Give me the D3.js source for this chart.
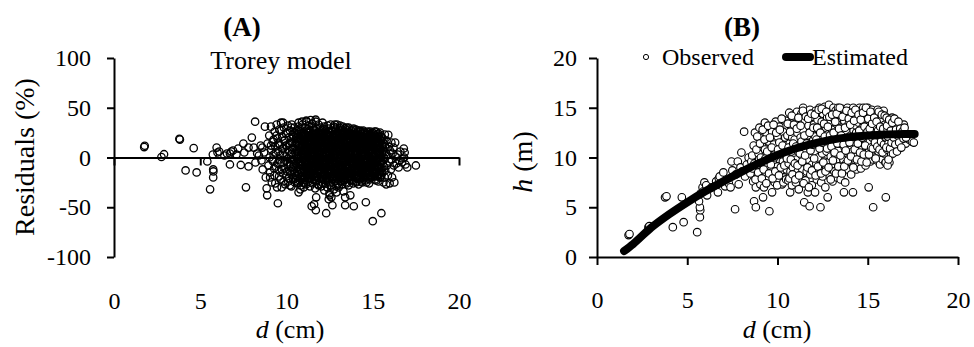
<!DOCTYPE html>
<html>
<head>
<meta charset="utf-8">
<script src="https://cdn.jsdelivr.net/npm/d3@7"></script>
<style>
  body { margin: 0; background: #fff; }
  svg text { font-family: "Liberation Serif", "Times New Roman", serif; fill: #000; }
</style>
</head>
<body>
<svg id="chart" width="974" height="347"></svg>
<script>
// ---- panel A: residuals (%) of the Trorey model vs d (cm) ----
const resLeft = [[1.75,10.5],[1.78,11.8],[2.75,0.5],[2.9,3.3],[3.79,18.8],[3.82,18],[4.15,-13],[4.62,9.4],[4.79,-15],
  [5.41,-4],[5.57,-32],[5.73,3],[5.75,-12],[5.76,-14],[5.75,-20],[5.95,10],[6.0,5],[6.1,6],[6.4,2],[6.55,4],
  [6.72,-7],[6.72,4],[6.8,6],[6.9,7],[7.1,3],[7.2,9],[7.35,-7.5],[7.5,14],[7.55,5],[7.65,-30],[7.8,-9],[7.8,10],
  [7.99,20],[8.1,10],[8.18,36],[8.3,4],[8.2,-5],[8.4,2],[8.5,12]];

const resMid = [[8.55,-3],[8.6,10],[8.62,-12],[8.7,5],[8.75,31],[8.8,-20],[8.85,-31],[8.88,-38],[8.9,14],[8.95,-8],
  [9.0,22],[9.02,0],[9.05,-15],[9.1,31],[9.12,8],[9.15,-25],[9.2,16],[9.22,-4],[9.25,3],[9.3,-18],[9.32,26],
  [9.35,11],[9.4,-9],[9.43,33],[9.45,-30],[9.48,19],[9.5,-46],[9.52,6],[9.55,-13],[9.58,28],[9.6,-2],[9.62,13],
  [9.65,-22],[9.68,35],[9.7,-6],[9.72,-30],[9.75,21],[9.78,4],[9.8,-16],[9.82,9],[9.85,30],[9.88,-11],[9.9,17],
  [9.92,-27],[9.95,1],[9.97,24],[10.0,-19],[10.02,12],[10.05,-5],[10.08,32],[10.1,-24],[10.12,7],[10.15,20],
  [10.18,-9],[10.2,27],[10.22,-14],[10.25,3],[10.28,-29],[10.3,15],[10.32,-2],[10.35,23],[10.38,-20],[10.4,10],
  [10.42,-7],[10.45,30],[10.48,-25],[10.5,5],
  [9.05,-20],[9.1,12],[9.18,-2],[9.25,18],[9.28,-11],[9.35,-26],[9.38,5],[9.42,22],[9.47,-6],[9.53,14],
  [9.57,-19],[9.63,2],[9.66,27],[9.73,-12],[9.76,9],[9.83,-24],[9.86,17],[9.93,-3],[9.96,12],[10.03,-14],
  [10.06,25],[10.11,-1],[10.14,-21],[10.19,14],[10.23,-7],[10.26,30],[10.29,-17],[10.33,8],[10.36,-10],[10.4,21]];

const resCore = [
  [10.51,-21],[10.53,14],[10.55,-6],[10.57,27],[10.58,2],[10.6,-14],[10.59,20],
  [10.62,8],[10.64,-26],[10.66,17],[10.67,-1],[10.69,31],[10.68,-10],[10.65,24],
  [10.71,-17],[10.72,5],[10.74,12],[10.75,-23],[10.77,29],[10.78,-4],[10.79,19],
  [10.81,-12],[10.82,26],[10.84,1],[10.85,-28],[10.86,10],[10.88,-7],[10.89,22],
  [10.9,16],[10.92,-19],[10.93,33],[10.95,-2],[10.96,7],[10.97,-25],[10.99,13],
  [11.0,-9],[11.02,24],[11.03,-15],[11.05,4],[11.06,30],[11.08,-21],[11.09,11],
  [11.11,-4],[11.12,18],[11.14,-27],[11.15,36],[11.16,8],[11.18,-12],[11.19,26],
  [11.2,-18],[11.22,2],[11.23,14],[11.25,-8],[11.26,21],[11.28,-24],[11.29,32],
  [11.3,6],[11.32,-13],[11.33,27],[11.35,-1],[11.36,-29],[11.38,17],[11.39,9],
  [11.4,-20],[11.42,23],[11.43,-6],[11.45,13],[11.46,-16],[11.48,34],[11.49,0],
  [11.5,19],[11.52,-26],[11.53,5],[11.55,-10],[11.56,28],[11.58,11],[11.59,-22],
  [11.6,-3],[11.62,24],[11.63,-17],[11.65,15],[11.66,-31],[11.68,3],[11.69,38],
  [11.7,10],[11.72,-8],[11.73,29],[11.75,-23],[11.76,18],[11.78,-14],[11.79,1],
  [11.8,25],[11.82,-19],[11.83,7],[11.85,-27],[11.86,33],[11.88,-5],[11.89,14],
  [11.9,-11],[11.92,21],[11.93,-2],[11.95,30],[11.96,-24],[11.98,9],[11.99,-15],
  [12.0,16],[12.02,-29],[12.03,26],[12.05,-7],[12.06,4],[12.08,-18],[12.09,35],
  [12.1,-1],[12.12,12],[12.13,-22],[12.15,22],[12.16,-12],[12.18,31],[12.19,-33],
  [12.2,8],[12.22,-16],[12.23,19],[12.25,-4],[12.26,27],[12.28,-26],[12.29,2],
  [12.3,-9],[12.32,24],[12.33,-20],[12.35,13],[12.36,-30],[12.38,32],[12.39,6],
  [12.4,-14],[12.42,17],[12.43,-2],[12.45,29],[12.46,-25],[12.48,10],[12.49,-36],
  [12.5,21],[12.52,-8],[12.53,3],[12.55,-19],[12.56,33],[12.58,-12],[12.59,15],
  [12.6,-28],[12.62,8],[12.63,26],[12.65,-5],[12.66,-22],[12.68,18],[12.69,0],
  [12.7,12],[12.72,-16],[12.73,31],[12.75,-32],[12.76,5],[12.78,23],[12.79,-10],
  [12.8,-3],[12.82,20],[12.83,-24],[12.85,28],[12.86,-13],[12.88,9],[12.89,-29],
  [12.9,16],[12.92,-7],[12.93,33],[12.95,-18],[12.96,2],[12.98,25],[12.99,-26],
  [13.0,-11],[13.02,11],[13.03,-30],[13.05,22],[13.06,-4],[13.08,30],[13.09,-20],
  [13.1,7],[13.12,-15],[13.13,19],[13.15,-1],[13.16,27],[13.18,-24],[13.19,14],
  [13.2,-8],[13.22,24],[13.23,-27],[13.25,4],[13.26,31],[13.28,-14],[13.29,10],
  [13.3,-19],[13.32,17],[13.33,-3],[13.35,26],[13.36,-23],[13.38,6],[13.39,29],
  [13.4,-10],[13.42,13],[13.43,-25],[13.45,21],[13.46,1],[13.48,-17],[13.49,30],
  [13.5,8],[13.52,-6],[13.53,25],[13.55,-21],[13.56,16],[13.58,-12],[13.59,3],
  [13.6,-28],[13.62,28],[13.63,-2],[13.65,11],[13.66,-16],[13.68,22],[13.69,-9],
  [13.7,18],[13.72,-23],[13.73,5],[13.75,27],[13.76,-13],[13.78,-1],[13.79,14],
  [13.8,-18],[13.82,24],[13.83,-7],[13.85,9],[13.86,-26],[13.88,19],[13.89,29],
  [13.9,-4],[13.92,15],[13.93,-20],[13.95,26],[13.96,2],[13.98,-11],[13.99,21],
  [14.0,-15],[14.02,7],[14.03,28],[14.05,-24],[14.06,12],[14.08,-3],[14.09,23],
  [14.1,-8],[14.12,18],[14.13,-19],[14.15,3],[14.16,27],[14.18,-27],[14.19,10],
  [14.2,-12],[14.22,22],[14.23,-1],[14.25,14],[14.26,-22],[14.28,26],[14.29,-6],
  [14.3,17],[14.32,-16],[14.33,5],[14.35,24],[14.36,-9],[14.38,-25],[14.39,11],
  [14.4,-2],[14.42,20],[14.43,-14],[14.45,27],[14.46,-20],[14.48,8],[14.49,16],
  [14.5,-18],[14.52,13],[14.53,-5],[14.55,25],[14.56,-11],[14.58,2],[14.59,-23],
  [14.6,19],[14.62,-8],[14.63,9],[14.65,-17],[14.66,23],[14.68,-2],[14.69,14],
  [14.7,-13],[14.72,26],[14.73,-21],[14.75,6],[14.76,17],[14.78,-6],[14.79,-26],
  [14.8,11],[14.82,-15],[14.83,22],[14.85,-1],[14.86,26],[14.88,-10],[14.89,4],
  [14.9,-20],[14.92,15],[14.93,-7],[14.95,21],[14.96,-14],[14.98,8],[14.99,25],
  [15.0,-4],[15.02,12],[15.03,-17],[15.05,24],[15.06,-9],[15.08,1],[15.09,18],
  [15.1,-12],[15.12,22],[15.13,-22],[15.15,7],[15.16,14],[15.18,-6],[15.19,26],
  [15.2,3],[15.22,-15],[15.23,19],[15.25,-3],[15.26,10],[15.28,-19],[15.29,23],
  [15.3,-8],[15.32,16],[15.33,-24],[15.35,5],[15.36,21],[15.38,-11],[15.39,12],
  [15.4,-1],[15.42,25],[15.43,-14],[15.45,8],[15.46,-20],[15.48,17],[15.49,0]];

// second pass through the dense cloud
const resCore2 = [
  [10.31,4],[10.34,-12],[10.36,19],[10.39,-22],[10.41,9],[10.43,-3],[10.46,25],[10.48,-16],
  [10.5,12],[10.53,-9],[10.55,1],[10.57,22],[10.6,-19],[10.62,15],[10.64,-2],[10.66,-24],
  [10.68,6],[10.71,27],[10.73,-11],[10.75,18],[10.77,-6],[10.8,9],[10.82,-20],[10.84,2],
  [10.86,24],[10.89,-15],[10.91,11],[10.93,-8],[10.95,20],[10.98,-1],[11.0,16],[11.03,-26],
  [11.05,8],[11.07,-4],[11.1,23],[11.12,-17],[11.14,13],[11.16,1],[11.19,-10],[11.21,28],
  [11.23,-21],[11.25,7],[11.28,16],[11.3,-5],[11.32,25],[11.34,-14],[11.37,3],[11.39,-25],
  [11.41,11],[11.43,-9],[11.46,20],[11.48,-2],[11.5,8],[11.52,-18],[11.55,30],[11.57,2],
  [11.59,-12],[11.61,18],[11.64,-6],[11.66,26],[11.68,-23],[11.7,14],[11.73,-1],[11.75,6],
  [11.77,-16],[11.79,21],[11.82,-9],[11.84,12],[11.86,-28],[11.88,3],[11.91,27],[11.93,-4],
  [11.95,17],[11.97,-20],[12.0,6],[12.02,-12],[12.04,23],[12.06,-1],[12.09,12],[12.11,-26],
  [12.13,29],[12.15,-7],[12.18,4],[12.2,-17],[12.22,18],[12.24,-3],[12.27,9],[12.29,-21],
  [12.31,21],[12.33,-11],[12.36,2],[12.38,15],[12.4,-24],[12.42,26],[12.45,-6],[12.47,8],
  [12.49,-15],[12.51,19],[12.54,-2],[12.56,-28],[12.58,12],[12.6,27],[12.63,-9],[12.65,5],
  [12.67,-19],[12.69,22],[12.72,-4],[12.74,14],[12.76,-13],[12.78,30],[12.81,1],[12.83,-23],
  [12.85,10],[12.87,-8],[12.9,24],[12.92,-16],[12.94,6],[12.96,-27],[12.99,17],[13.01,-3],
  [13.03,13],[13.05,-21],[13.08,26],[13.1,-10],[13.12,3],[13.14,20],[13.17,-15],[13.19,8],
  [13.21,-5],[13.23,28],[13.26,-22],[13.28,11],[13.3,-1],[13.32,18],[13.35,-13],[13.37,4],
  [13.39,23],[13.41,-18],[13.44,9],[13.46,-7],[13.48,15],[13.5,-26],[13.53,27],[13.55,0],
  [13.57,-11],[13.59,19],[13.62,-20],[13.64,6],[13.66,25],[13.68,-5],[13.71,12],[13.73,-16],
  [13.75,2],[13.77,21],[13.8,-23],[13.82,14],[13.84,-8],[13.86,28],[13.89,-2],[13.91,9],
  [13.93,-17],[13.95,23],[13.98,-12],[14.0,4],[14.02,17],[14.04,-25],[14.07,11],[14.09,-6],
  [14.11,25],[14.13,-14],[14.16,1],[14.18,19],[14.2,-20],[14.22,8],[14.25,-3],[14.27,27],
  [14.29,-10],[14.31,13],[14.34,-24],[14.36,21],[14.38,3],[14.4,-15],[14.43,26],[14.45,-7],
  [14.47,10],[14.49,-21],[14.52,18],[14.54,-1],[14.56,23],[14.58,-13],[14.61,6],[14.63,-25],
  [14.65,15],[14.67,-5],[14.7,25],[14.72,-18],[14.74,2],[14.76,12],[14.79,-10],[14.81,20],
  [14.83,-22],[14.85,7],[14.88,-3],[14.9,24],[14.92,-14],[14.94,14],[14.97,-8],[14.99,1],
  [15.01,21],[15.03,-19],[15.06,9],[15.08,-6],[15.1,26],[15.12,-12],[15.15,4],[15.17,16],
  [15.19,-23],[15.21,11],[15.24,-2],[15.26,20],[15.28,-9],[15.3,6],[15.33,24],[15.35,-17],
  [15.37,2],[15.39,14],[15.42,-20],[15.44,9],[15.46,-6],[15.48,21],[15.51,-11],[15.53,4],
  [15.55,-15],[15.57,13],[15.6,-3],[15.62,18],[15.64,-9],[15.66,6],[15.69,-20],[15.71,11]];

// third pass: the solid black middle of the cloud
const resCore3 = [
  [10.8,-14],[10.83,6],[10.85,19],[10.88,-4],[10.9,-19],[10.92,12],[10.95,24],[10.97,0],
  [11.0,-12],[11.03,18],[11.05,-20],[11.07,7],[11.1,-2],[11.12,22],[11.15,-15],[11.17,10],
  [11.19,-7],[11.22,25],[11.24,-18],[11.26,4],[11.29,15],[11.31,-10],[11.33,-1],[11.36,21],
  [11.38,-21],[11.4,9],[11.43,-4],[11.45,17],[11.47,-13],[11.5,2],[11.52,24],[11.54,-8],
  [11.57,13],[11.59,-17],[11.61,5],[11.64,20],[11.66,-11],[11.68,-1],[11.71,23],[11.73,-19],
  [11.75,8],[11.78,-5],[11.8,16],[11.82,-14],[11.84,1],[11.87,25],[11.89,-21],[11.91,10],
  [11.94,-3],[11.96,19],[11.98,-16],[12.01,6],[12.03,-9],[12.05,15],[12.08,-20],[12.1,24],
  [12.12,1],[12.15,-13],[12.17,10],[12.19,-4],[12.22,21],[12.24,-18],[12.26,5],[12.29,16],
  [12.31,-7],[12.33,-21],[12.36,11],[12.38,-1],[12.4,23],[12.43,-12],[12.45,3],[12.47,18],
  [12.5,-17],[12.52,8],[12.54,-6],[12.57,25],[12.59,-14],[12.61,0],[12.64,14],[12.66,-20],
  [12.68,9],[12.71,-3],[12.73,19],[12.75,-11],[12.78,4],[12.8,23],[12.82,-18],[12.85,12],
  [12.87,-6],[12.89,17],[12.92,-21],[12.94,0],[12.96,21],[12.99,-9],[13.01,7],[13.03,-15],
  [13.06,15],[13.08,-2],[13.1,24],[13.13,-19],[13.15,10],[13.17,-7],[13.2,19],[13.22,-12],
  [13.24,2],[13.27,22],[13.29,-17],[13.31,7],[13.34,-4],[13.36,14],[13.38,-21],[13.41,25],
  [13.43,-10],[13.45,4],[13.48,17],[13.5,-15],[13.52,9],[13.55,-2],[13.57,22],[13.59,-19],
  [13.62,12],[13.64,-7],[13.66,1],[13.69,20],[13.71,-13],[13.73,8],[13.76,-20],[13.78,24],
  [13.8,-4],[13.83,14],[13.85,-16],[13.87,5],[13.9,21],[13.92,-10],[13.94,0],[13.97,17],
  [13.99,-20],[14.01,10],[14.04,-5],[14.06,23],[14.08,-14],[14.11,3],[14.13,16],[14.15,-9],
  [14.18,-21],[14.2,13],[14.22,-1],[14.25,22],[14.27,-16],[14.29,7],[14.32,-6],[14.34,18],
  [14.36,-12],[14.39,2],[14.41,24],[14.43,-19],[14.46,11],[14.48,-4],[14.5,15],[14.53,-10],
  [14.55,5],[14.57,20],[14.6,-17],[14.62,9],[14.64,-2],[14.67,23],[14.69,-13],[14.71,1],
  [14.74,17],[14.76,-20],[14.78,11],[14.81,-7],[14.83,19],[14.85,-11],[14.88,3],[14.9,-18],
  [14.92,12],[14.95,-3],[14.97,22],[14.99,-15],[15.02,6],[15.04,17],[15.06,-10],[15.09,0],
  [15.11,-19],[15.13,13],[15.16,-5],[15.18,20],[15.2,-13],[15.23,8],[15.25,-18],[15.27,15],
  [15.3,-1],[15.32,21],[15.34,-8],[15.37,10],[15.39,-16],[15.41,4],[15.44,18],[15.46,-4]];

// extra points in the darkest band around zero
const resBand = [[11.04,3],[11.13,-6],[11.24,10],[11.34,-2],[11.44,6],[11.54,-5],[11.64,12],[11.74,-1],[11.84,4],
  [11.94,-7],[12.04,9],[12.14,-3],[12.24,14],[12.34,-10],[12.44,5],[12.54,-2],[12.64,11],[12.74,-6],[12.84,3],
  [12.94,-12],[13.04,8],[13.14,-8],[13.24,15],[13.34,-4],[13.44,7],[13.54,-9],[13.64,4],[13.74,-5],[13.84,12],
  [13.94,-2],[14.04,6],[14.14,-11],[14.24,9],[14.34,-1],[14.44,4],[14.54,-8],[14.64,7],[14.74,-3],[14.84,13],
  [14.94,-5],[11.07,15],[11.17,-11],[11.27,20],[11.37,-18],[11.47,24],[11.57,-14],[11.67,16],[11.77,-20],
  [11.87,19],[11.97,-9],[12.07,22],[12.17,-16],[12.27,18],[12.37,-21],[12.47,23],[12.57,-14],[12.67,17],
  [12.77,-20],[12.87,22],[12.97,-16],[13.07,18],[13.17,-18],[13.27,20],[13.37,-13],[13.47,23],[13.57,-16],
  [13.67,18],[13.77,-19],[13.87,16],[13.97,-15],[14.07,19],[14.17,-13],[14.27,17],[14.37,-16],[14.47,21],
  [14.57,-13],[14.67,19],[14.77,-15],[14.87,17],[14.97,-12]];

const resRight = [[15.52,-17],[15.55,20],[15.58,-6],[15.6,9],[15.62,-25],[15.65,14],[15.68,-1],[15.7,23],[15.72,-13],
  [15.75,5],[15.78,-27],[15.8,17],[15.82,-8],[15.85,2],[15.88,-18],[15.9,22.7],[15.92,11],[15.95,-4],[15.98,-26],
  [16.0,7],[16.05,-12],[16.08,15],[16.1,-2],[16.12,-20],[16.15,4],[16.2,10],[16.22,-8],[16.25,-25],[16.3,15],
  [16.32,1],[16.38,-6],[16.45,3],[16.5,-10],[16.55,-3],[16.6,6],[16.7,-5],[16.75,-1],[16.8,9],[16.82,0],
  [16.85,5],[16.9,-7],[17.0,-10],[17.5,-8]];

const resOutliers = [[11.46,-49],[11.6,-47],[11.7,-53],[11.72,-40],[12.3,-56],[12.6,-40],[12.66,-48],[13.3,-34],
  [13.4,-40],[13.4,-48],[13.9,-49],[14.6,-45],[15.0,-64],[15.5,-56],[10.7,-35],[10.8,-32],[12.45,-42],
  [12.5,-38],[12.9,-35],[13.7,-38],[10.2,-28],[11.0,-30],[11.4,37.7],[10.7,35],[11.7,36],[12.8,33],
  [11.15,37],[11.5,34],[10.3,33],[9.8,35],[10.9,36],[13.1,32],[13.6,30]];

// ---- panel B: observed h (m) vs d (cm), plus estimated curve ----
const obsLeft = [[1.75,2.2],[1.8,2.3],[2.85,3.0],[2.9,3.1],[3.77,6.0],[3.85,6.1],[4.2,3.0],[4.7,6.0],[4.8,3.5],
  [5.55,2.5],[5.7,4.0],[5.72,4.7],[5.7,5.0],[5.65,5.6],[5.75,6.4],[5.85,7.0],[5.95,7.5],[5.9,6.6],[6.05,7.2],
  [6.1,6.2],[6.35,7.0],[6.6,7.6],[6.7,6.5],[6.75,7.9],[6.8,8.1],[7.0,8.5],[7.1,7.1],[7.3,7.4],[7.4,7.0],
  [7.45,9.6],[7.5,8.7],[7.65,4.8],[7.7,8.3],[7.8,9.6],[7.85,7.3],[7.95,9.0],[8.0,10.5],[8.05,8.6],[8.15,12.6],
  [8.2,8.1],[8.3,9.3],[8.4,10.0],[8.5,8.4],[8.55,9.6]];

const obsMid = [[8.6,10.2],[8.65,7.6],[8.7,5.6],[8.75,12.5],[8.8,5.0],[8.8,7.0],[8.85,9.0],[8.9,8.0],[8.95,10.4],
  [9.0,12.0],[9.0,13.0],[9.05,7.3],[9.1,8.6],[9.15,11.1],[9.2,6.0],[9.2,9.7],[9.25,7.0],[9.3,13.5],[9.3,10.8],
  [9.35,8.3],[9.4,12.4],[9.45,9.2],[9.5,7.8],[9.5,11.6],[9.55,4.6],[9.6,10.1],[9.6,13.0],[9.65,8.7],[9.7,6.5],
  [9.7,12.6],[9.75,9.5],[9.8,11.3],[9.85,7.5],[9.9,13.6],[9.9,10.5],[9.95,8.1],[10.0,12.1],[10.0,9.1],
  [10.05,7.6],[10.1,11.5],[10.1,13.1],[10.15,8.6],[10.2,10.3],[10.25,7.3],[10.3,12.6],[10.3,9.6],[10.35,8.0],
  [10.4,11.0],[10.45,13.7],[10.5,8.8],[10.5,10.1],
  [8.62,8.9],[8.68,11.2],[8.72,9.4],[8.78,7.8],[8.83,10.8],[8.88,12.1],[8.93,8.5],[8.98,9.8],[9.03,11.4],
  [9.08,10.0],[9.13,7.9],[9.18,12.8],[9.23,8.8],[9.28,11.8],[9.33,9.9],[9.38,7.4],[9.43,10.6],[9.48,13.2],
  [9.53,8.4],[9.58,12.0],[9.63,9.3],[9.68,11.0],[9.73,7.9],[9.78,13.3],[9.83,10.0],[9.88,8.6],[9.93,12.5],
  [9.98,7.2],[10.03,10.8],[10.08,8.2],[10.13,12.8],[10.18,9.0],[10.23,13.9],[10.28,11.2],[10.33,7.5],
  [10.38,9.2],[10.43,12.0],[10.48,7.8]];

const obsCore = [
  [10.55,12.2],[10.6,7.7],[10.62,9.4],[10.65,14.5],[10.68,11.4],[10.7,6.5],[10.72,8.6],[10.75,13.0],[10.78,10.6],
  [10.8,7.2],[10.82,12.0],[10.85,9.0],[10.88,14.0],[10.9,10.9],[10.92,8.0],[10.95,11.8],
  [11.0,13.4],[11.02,7.5],[11.05,9.8],[11.08,14.6],[11.1,12.5],[11.12,8.6],[11.15,10.6],[11.18,6.8],[11.2,13.8],
  [11.22,11.2],[11.25,9.2],[11.28,12.0],[11.3,7.9],[11.32,14.4],[11.35,10.2],[11.38,8.8],
  [11.4,12.8],[11.42,15.0],[11.45,9.6],[11.48,5.5],[11.5,11.6],[11.52,13.7],[11.55,7.7],[11.58,10.8],[11.6,14.5],
  [11.62,8.6],[11.65,12.2],[11.68,6.5],[11.7,9.8],[11.72,13.2],[11.75,11.1],[11.78,5.1],[11.8,14.8],[11.82,8.3],
  [11.85,10.3],[11.88,12.6],[11.9,7.2],[11.92,9.3],[11.95,14.1],[11.98,11.7],
  [12.0,8.8],[12.02,13.3],[12.05,10.6],[12.08,6.5],[12.1,12.1],[12.12,14.7],[12.15,9.4],[12.18,7.8],[12.2,11.4],
  [12.22,13.8],[12.25,10.0],[12.28,8.5],[12.3,12.7],[12.32,15.0],[12.35,9.0],[12.38,5.0],[12.4,11.2],[12.42,7.5],
  [12.45,13.6],[12.48,10.4],[12.5,8.1],[12.52,14.4],[12.55,12.0],[12.58,9.6],
  [12.6,11.0],[12.62,15.1],[12.65,7.0],[12.68,13.0],[12.7,8.9],[12.72,10.6],[12.75,14.0],[12.78,6.0],[12.8,12.3],
  [12.82,9.5],[12.85,15.3],[12.88,11.5],[12.9,8.1],[12.92,13.5],[12.95,10.1],[12.98,14.6],
  [13.0,9.0],[13.02,12.8],[13.05,7.6],[13.08,11.0],[13.1,15.0],[13.12,13.9],[13.15,8.6],[13.18,10.3],[13.2,12.1],
  [13.22,14.7],[13.25,9.6],[13.28,11.8],[13.3,8.0],[13.32,13.3],[13.35,15.0],[13.38,10.8],
  [13.4,12.6],[13.42,9.0],[13.45,14.3],[13.48,11.4],[13.5,7.8],[13.52,13.0],[13.55,10.2],[13.58,14.9],[13.6,8.6],
  [13.62,12.0],[13.65,9.8],[13.68,6.5],[13.7,13.7],[13.72,11.0],[13.75,7.5],[13.78,14.4],[13.8,9.4],[13.82,12.6],
  [13.85,10.4],[13.88,15.0],[13.9,8.8],[13.92,11.8],[13.95,13.4],[13.98,10.0],
  [14.0,14.6],[14.02,9.6],[14.05,12.2],[14.08,8.3],[14.1,11.1],[14.12,13.9],[14.15,10.6],[14.18,6.5],[14.2,15.0],
  [14.22,12.7],[14.25,9.2],[14.28,11.5],[14.3,14.0],[14.32,10.3],[14.35,13.2],[14.38,8.8],
  [14.4,12.0],[14.42,14.8],[14.45,10.9],[14.48,9.4],[14.5,13.5],[14.52,11.6],[14.55,15.0],[14.58,10.0],[14.6,12.5],
  [14.62,8.9],[14.65,14.2],[14.68,11.1],[14.7,13.0],[14.72,9.8],[14.75,15.0],[14.78,11.9],[14.8,10.5],[14.82,13.8],
  [14.85,12.3],[14.88,9.2],[14.9,14.5],[14.92,11.0],[14.95,13.2],[14.98,10.1],
  [15.0,15.0],[15.02,12.4],[15.05,7.0],[15.08,10.8],[15.1,14.0],[15.12,11.6],[15.15,9.6],[15.18,13.1],[15.2,10.4],
  [15.22,14.8],[15.25,12.0],[15.28,9.8],[15.3,5.0],[15.32,13.6],[15.35,11.2],[15.38,14.5],
  [15.4,10.0],[15.42,12.6],[15.45,14.2],[15.48,11.5],[15.5,13.0],[15.52,9.7],[15.55,14.8],[15.58,11.9],[15.6,10.6],
  [15.62,13.5],[15.65,12.1],[15.68,9.3],[15.7,14.3],[15.72,10.9],[15.75,12.8],[15.78,11.3],[15.8,13.9],[15.82,9.8],
  [15.85,12.4],[15.88,14.7],[15.9,10.4],[15.92,11.7],[15.95,13.3],[15.98,9.5]];

const obsCore2 = [
  [10.52,9.9],[10.57,13.4],[10.61,11.0],[10.66,7.9],[10.7,12.6],[10.74,9.8],[10.79,14.2],[10.83,8.3],[10.87,11.4],
  [10.91,13.3],[10.96,9.4],[10.99,7.8],[11.03,11.1],[11.07,12.9],[11.11,9.2],[11.16,14.0],[11.2,8.2],[11.24,10.4],
  [11.28,13.2],[11.33,11.6],[11.37,9.6],[11.41,14.7],[11.45,7.4],[11.49,12.2],[11.53,10.2],[11.57,14.1],
  [11.61,11.4],[11.66,9.0],[11.7,13.9],[11.74,7.0],[11.78,12.5],[11.83,10.7],[11.87,14.4],[11.91,8.7],[11.95,11.3],
  [11.99,13.0],[12.03,9.9],[12.07,14.3],[12.11,8.2],[12.16,11.8],[12.2,13.0],[12.24,9.1],[12.28,14.8],[12.33,10.9],
  [12.37,12.5],[12.41,8.4],[12.45,14.9],[12.49,11.5],[12.54,9.5],[12.58,13.4],[12.62,12.1],[12.66,8.6],[12.7,14.6],
  [12.75,10.9],[12.79,13.1],[12.83,9.0],[12.87,14.1],[12.91,12.2],[12.95,7.8],[12.99,11.1],[13.03,14.3],[13.07,9.7],
  [13.11,12.5],[13.16,10.5],[13.2,13.6],[13.24,8.4],[13.28,14.4],[13.32,11.4],[13.37,9.1],[13.41,12.9],[13.45,15.0],
  [13.49,10.2],[13.53,12.2],[13.57,8.4],[13.61,14.1],[13.66,11.3],[13.7,9.1],[13.74,13.0],[13.78,10.7],[13.82,14.7],
  [13.86,12.0],[13.9,9.7],[13.95,13.9],[13.99,11.5],[14.03,13.3],[14.07,10.1],[14.11,14.5],[14.15,12.1],[14.2,9.0],
  [14.24,13.7],[14.28,10.8],[14.32,14.8],[14.36,12.5],[14.4,9.8],[14.45,11.4],[14.49,14.3],[14.53,12.7],[14.57,10.5],
  [14.61,13.8],[14.65,9.6],[14.7,12.0],[14.74,14.5],[14.78,10.3],[14.82,13.1],[14.86,11.2],[14.9,15.0],[14.94,9.5],
  [14.99,12.6],[15.03,13.9],[15.07,10.3],[15.11,12.9],[15.15,14.6],[15.19,11.0],[15.24,13.4],[15.28,10.9],
  [15.32,12.2],[15.36,14.0],[15.4,11.5],[15.44,9.9],[15.49,13.6],[15.53,11.1],[15.57,12.7],[15.61,14.6],[15.65,10.8],
  [15.69,13.1],[15.74,11.6],[15.78,14.3],[15.82,10.5],[15.86,12.9],[15.9,11.3],[15.94,14.2],[15.98,12.0]];

const obsRight = [[16.0,6.0],[16.02,12.0],[16.05,14.0],[16.08,10.8],[16.1,12.8],[16.15,11.4],[16.2,9.5],[16.22,13.5],
  [16.25,12.2],[16.3,10.3],[16.35,14.0],[16.4,11.6],[16.45,12.9],[16.5,10.8],[16.55,12.4],[16.6,11.9],[16.65,13.2],
  [16.7,11.2],[16.75,12.6],[16.8,11.8],[16.85,13.0],[16.9,12.0],[16.95,11.6],[17.0,13.3],[17.05,12.4],[17.1,11.4],
  [17.2,12.2],[17.3,11.8],[17.45,11.6],[17.55,11.5],[16.0,9.5],[16.1,9.2],
  [16.03,11.0],[16.07,13.2],[16.11,12.1],[16.15,9.8],[16.19,13.8],[16.24,10.9],[16.28,12.7],[16.32,11.5],
  [16.36,13.5],[16.4,10.4],[16.44,12.0],[16.48,13.9],[16.53,11.3],[16.57,12.8],[16.62,10.6],[16.66,12.2],
  [16.7,13.6],[16.74,11.5],[16.8,12.9],[16.86,11.0],[16.92,12.6],[16.98,11.9],[17.04,13.0],[17.12,12.0]];

const estD = [1.5, 2, 3, 4, 5, 6, 7, 8, 9, 10, 11, 12, 13, 14, 15, 16, 17, 17.6];
const estH = [0.6, 1.3, 2.95, 4.3, 5.5, 6.6, 7.6, 8.55, 9.45, 10.25, 10.9, 11.4, 11.8, 12.05, 12.2, 12.3, 12.35, 12.35];

const xTicks = [0, 5, 10, 15, 20];
const yTicksA = [-100, -50, 0, 50, 100];
const yTicksB = [0, 5, 10, 15, 20];

const svg = d3.select('#chart');
const tickFont = 24;

function styleAxis(g) {
  g.attr('font-family', null).attr('font-size', null);
  g.select('.domain').attr('stroke', '#000').attr('stroke-width', 2);
  g.selectAll('.tick line').attr('stroke', '#000').attr('stroke-width', 2);
  g.selectAll('.tick text').attr('font-size', tickFont);
}

// plain hyphen for negatives, like the original
const plain = d => String(d);

// ===== panel A =====
const xA = d3.scaleLinear().domain([0, 20]).range([114, 459]);
const yA = d3.scaleLinear().domain([-100, 100]).range([257, 58]);

const residuals = [].concat(resLeft, resMid, resCore, resCore2, resCore3, resBand, resRight, resOutliers);

svg.append('g')
  .selectAll('circle')
  .data(residuals)
  .join('circle')
  .attr('cx', d => xA(d[0]))
  .attr('cy', d => yA(d[1]))
  .attr('r', 3.7)
  .attr('fill', 'none')
  .attr('stroke', '#000')
  .attr('stroke-width', 1.3);

svg.append('g')
  .attr('transform', `translate(114,0)`)
  .call(d3.axisLeft(yA).tickValues(yTicksA).tickFormat(plain).tickSize(7).tickSizeOuter(0).tickPadding(16))
  .call(styleAxis);

// x axis sits on the zero line, labels pushed down to the bottom
svg.append('g')
  .attr('transform', `translate(0,${yA(0)})`)
  .call(d3.axisBottom(xA).tickValues(xTicks).tickFormat(plain).tickSize(8).tickSizeOuter(0).tickPadding(126))
  .call(styleAxis);

svg.append('text').attr('x', 242).attr('y', 36).attr('text-anchor', 'middle')
  .attr('font-size', 27).attr('font-weight', 'bold').text('(A)');
svg.append('text').attr('x', 281).attr('y', 69).attr('text-anchor', 'middle')
  .attr('font-size', 26).text('Trorey model');
svg.append('text').attr('transform', 'translate(34,157) rotate(-90)').attr('text-anchor', 'middle')
  .attr('font-size', 28).text('Residuals (%)');

const xlabA = svg.append('text').attr('x', 290).attr('y', 338).attr('text-anchor', 'middle').attr('font-size', 26);
xlabA.append('tspan').attr('font-style', 'italic').text('d');
xlabA.append('tspan').text(' (cm)');

// ===== panel B =====
const xB = d3.scaleLinear().domain([0, 20]).range([597, 958]);
const yB = d3.scaleLinear().domain([0, 20]).range([257, 58]);

const observed = [].concat(obsLeft, obsMid, obsCore, obsCore2, obsRight);

svg.append('g')
  .selectAll('circle')
  .data(observed)
  .join('circle')
  .attr('cx', d => xB(d[0]))
  .attr('cy', d => yB(d[1]))
  .attr('r', 3.8)
  .attr('fill', '#fff')
  .attr('stroke', '#000')
  .attr('stroke-width', 1.1);

const line = d3.line()
  .x(d => xB(d[0]))
  .y(d => yB(d[1]))
  .curve(d3.curveMonotoneX);

svg.append('path')
  .datum(estD.map((d, i) => [d, estH[i]]))
  .attr('d', line)
  .attr('fill', 'none')
  .attr('stroke', '#000')
  .attr('stroke-width', 8)
  .attr('stroke-linecap', 'round');

svg.append('g')
  .attr('transform', `translate(597,0)`)
  .call(d3.axisLeft(yB).tickValues(yTicksB).tickFormat(plain).tickSize(8).tickSizeOuter(0).tickPadding(12))
  .call(styleAxis);

svg.append('g')
  .attr('transform', `translate(0,257)`)
  .call(d3.axisBottom(xB).tickValues(xTicks).tickFormat(plain).tickSize(8).tickSizeOuter(0).tickPadding(26))
  .call(styleAxis);

svg.append('text').attr('x', 742).attr('y', 36).attr('text-anchor', 'middle')
  .attr('font-size', 27).attr('font-weight', 'bold').text('(B)');

const ylabB = svg.append('text').attr('transform', 'translate(532,162) rotate(-90)')
  .attr('text-anchor', 'middle').attr('font-size', 28);
ylabB.append('tspan').attr('font-style', 'italic').text('h');
ylabB.append('tspan').text(' (m)');

const xlabB = svg.append('text').attr('x', 777).attr('y', 338).attr('text-anchor', 'middle').attr('font-size', 26);
xlabB.append('tspan').attr('font-style', 'italic').text('d');
xlabB.append('tspan').text(' (cm)');

// legend
const legend = svg.append('g');
legend.append('circle').attr('cx', 646).attr('cy', 57).attr('r', 2.6)
  .attr('fill', '#fff').attr('stroke', '#000').attr('stroke-width', 1);
legend.append('text').attr('x', 662).attr('y', 65).attr('font-size', 24).text('Observed');
legend.append('line').attr('x1', 786).attr('x2', 810).attr('y1', 57).attr('y2', 57)
  .attr('stroke', '#000').attr('stroke-width', 8).attr('stroke-linecap', 'round');
legend.append('text').attr('x', 812).attr('y', 65).attr('font-size', 24).text('Estimated');
</script>
</body>
</html>
